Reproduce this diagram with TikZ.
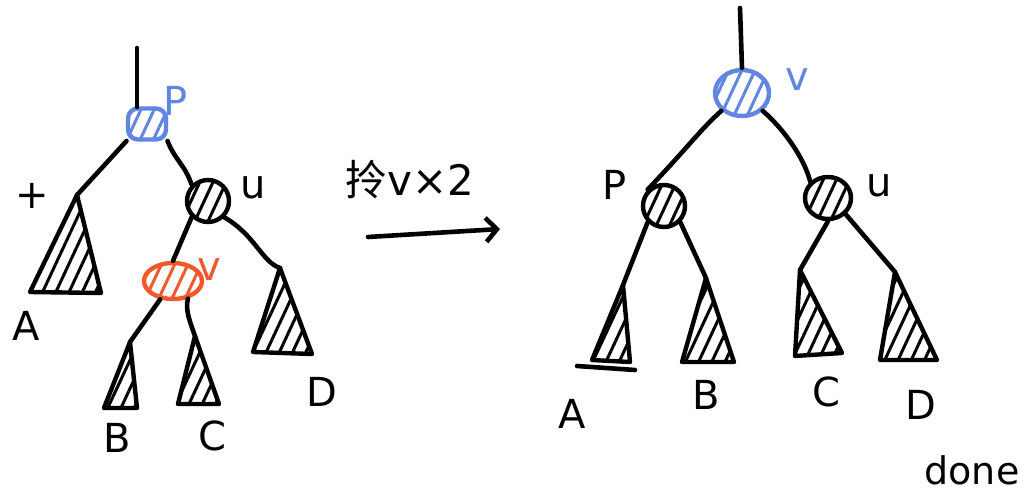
\documentclass[tikz,border=0pt]{standalone}
\usepackage{fontspec}
\setmainfont{DejaVu Sans}
\newfontfamily\cjk{Noto Sans CJK SC}
\usetikzlibrary{patterns.meta,arrows.meta,shapes.geometric}
\definecolor{hblue}{RGB}{96,134,226}
\definecolor{horange}{RGB}{238,88,42}
\begin{document}
\begin{tikzpicture}[x=1pt,y=-1pt,line cap=round,line join=round,
  edge/.style={line width=4.6pt},
  hatch/.style={pattern={Lines[angle=65,distance=12pt,line width=3pt]},pattern color=#1},
  bnode/.style={circle,draw,line width=4.4pt,minimum size=42pt,inner sep=0pt,hatch=black},
  tri/.style={draw,line width=4.4pt,hatch=black},
  lbl/.style={font=\fontsize{40}{40}\selectfont,inner sep=0pt},
  slbl/.style={font=\fontsize{38}{38}\selectfont,inner sep=0pt}]
\useasboundingbox (0,0) rectangle (1036,497);

% ---------- left tree ----------
\coordinate (Ltop) at (137,48);
\node[draw=hblue,line width=4.4pt,rounded corners=10pt,minimum width=38pt,minimum height=31pt,inner sep=0pt,hatch=hblue] (LP) at (147,124) {};
\node[bnode] (Lu) at (208,201) {};
\node[ellipse,draw=horange,line width=4.4pt,minimum width=58pt,minimum height=36pt,inner sep=0pt,hatch=horange] (Lv) at (173,281) {};
\coordinate (LAa) at (77,195); \coordinate (LAl) at (30,292); \coordinate (LAr) at (101,293);
\coordinate (LDa) at (280,268); \coordinate (LDl) at (253,352); \coordinate (LDr) at (312,354);
\coordinate (LBa) at (130,342); \coordinate (LBl) at (104,408); \coordinate (LBr) at (137,408);
\coordinate (LCa) at (195,336); \coordinate (LCl) at (178,404); \coordinate (LCr) at (219,404);

\draw[edge] (Ltop) -- (LP.north west-|Ltop);
\draw[edge] (LP.south west) -- (LAa);
\draw[edge] (LP.south east) .. controls (175,160) and (185,165) .. (Lu.north west);
\draw[edge] (Lu.south west) -- (Lv.north);
\draw[edge] (Lu.south east) .. controls (255,235) and (262,262) .. (LDa);
\draw[edge] (Lv.-125) -- (LBa);
\draw[edge] (Lv.-50) .. controls (185,310) and (190,322) .. (LCa);
\path[tri] (LAa) -- (LAl) -- (LAr) -- cycle;
\path[tri] (LDa) -- (LDl) -- (LDr) -- cycle;
\path[tri] (LBa) -- (LBl) -- (LBr) -- cycle;
\path[tri] (LCa) -- (LCl) -- (LCr) -- cycle;

\node[lbl,text=hblue] (tP) at (176,101) {P};
\node[lbl] (tu) at (253,188) {u};
\node[lbl,text=horange] (tv) at (209,270) {v};
\node[lbl] (tplus) at (32,196) {+};
\node[lbl] (tA) at (26,326) {A};
\node[lbl] (tB) at (117,438) {B};
\node[lbl] (tC) at (212,436) {C};
\node[lbl] (tD) at (322,392) {D};

% ---------- arrow ----------
\node[font=\fontsize{42}{42}\selectfont,inner sep=0pt] (op) at (410,180) {{\cjk 拎}v×2};
\coordinate (arS) at (368,237);
\coordinate (arE) at (500,229);
\draw[edge,-{Straight Barb[length=11pt,width=24pt]}] (arS) -- (arE);

% ---------- right tree ----------
\coordinate (Rtop) at (740,8);
\node[ellipse,draw=hblue,line width=4.4pt,minimum width=54pt,minimum height=46pt,inner sep=0pt,hatch=hblue] (Rv) at (742,93) {};
\node[bnode] (RP) at (664,206) {};
\node[bnode,minimum width=46pt,minimum height=42pt,ellipse] (Ru) at (828,198) {};
\coordinate (RAa) at (623,285); \coordinate (RAl) at (592,360); \coordinate (RAr) at (630,362);
\coordinate (RBa) at (706,278); \coordinate (RBl) at (682,362); \coordinate (RBr) at (734,362);
\coordinate (RCa) at (800,270); \coordinate (RCl) at (795,356); \coordinate (RCr) at (842,353);
\coordinate (RDa) at (895,272); \coordinate (RDl) at (880,360); \coordinate (RDr) at (937,360);

\draw[edge] (Rtop) -- (Rv.north);
\draw[edge] (Rv.south west) .. controls (700,130) and (690,145) .. (RP.north west);
\draw[edge] (Rv.south east) .. controls (785,130) and (805,160) .. (Ru.north west);
\draw[edge] (RP.south west) -- (RAa);
\draw[edge] (RP.south east) -- (RBa);
\draw[edge] (Ru.south) -- (RCa);
\draw[edge] (Ru.south east) -- (RDa);
\path[tri] (RAa) -- (RAl) -- (RAr) -- cycle;
\path[tri] (RBa) -- (RBl) -- (RBr) -- cycle;
\path[tri] (RCa) -- (RCl) -- (RCr) -- cycle;
\path[tri] (RDa) -- (RDl) -- (RDr) -- cycle;
\coordinate (RAb1) at (577,366); \coordinate (RAb2) at (635,370);
\draw[edge] (RAb1) -- (RAb2);

\node[lbl,text=hblue] (tRv) at (797,80) {v};
\node[lbl] (tRP) at (615,185) {P};
\node[lbl] (tRu) at (879,186) {u};
\node[lbl] (tRA) at (572,414) {A};
\node[lbl] (tRB) at (706,395) {B};
\node[lbl] (tRC) at (826,392) {C};
\node[lbl] (tRD) at (921,405) {D};
\node[slbl] (done) at (972,470) {done};
\end{tikzpicture}
\end{document}
